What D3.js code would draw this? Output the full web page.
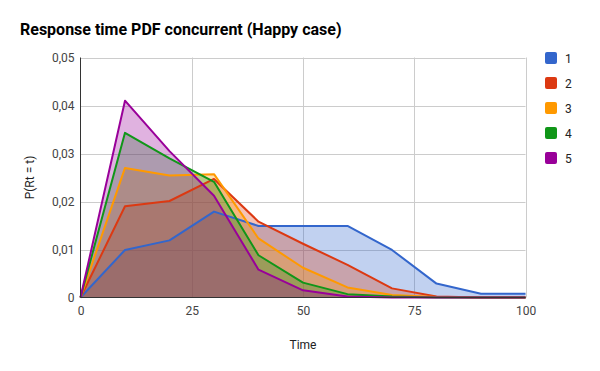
<!DOCTYPE html>
<html>
<head>
<meta charset="utf-8">
<script src="https://cdn.jsdelivr.net/npm/d3@7/dist/d3.min.js"></script>
<style>
  body { margin: 0; background: #fff; }
  svg { font-family: Roboto, Arial, sans-serif; }
</style>
</head>
<body>
<svg id="chart" width="600" height="371"></svg>
<script>
// time axis (x) and one array per series
let times = [0, 10, 20, 30, 40, 50, 60, 70, 80, 90, 100];
let series1 = [0, 0.0099, 0.0119, 0.0179, 0.0149, 0.0149, 0.0149, 0.0099, 0.0029, 0.0008, 0.0008];
let series2 = [0, 0.019, 0.0201, 0.0247, 0.0158, 0.0112, 0.0068, 0.0019, 0.0002, 0, 0];
let series3 = [0, 0.027, 0.0254, 0.0257, 0.0123, 0.0062, 0.0021, 0.0005, 0.0001, 0, 0];
let series4 = [0, 0.0343, 0.029, 0.0241, 0.0088, 0.0031, 0.0007, 0.0002, 0, 0, 0];
let series5 = [0, 0.041, 0.0305, 0.0212, 0.0058, 0.0015, 0.0002, 0, 0, 0, 0];
let seriesNames = ['1', '2', '3', '4', '5'];
let colors = ['#3366cc', '#dc3912', '#ff9900', '#109618', '#990099'];
let xTicks = [0, 25, 50, 75, 100];
let yTicks = [0, 0.01, 0.02, 0.03, 0.04, 0.05];

let allSeries = [series1, series2, series3, series4, series5];

let svg = d3.select('#chart');
let plot = { left: 80.5, right: 525.5, top: 57.5, bottom: 297.5 };

let x = d3.scaleLinear().domain([0, 100]).range([plot.left, plot.right]);
let y = d3.scaleLinear().domain([0, 0.05]).range([plot.bottom, plot.top]);
let fmt = d => d === 0 ? '0' : d3.format('.2f')(d).replace('.', ',');

// Gridlines
let grid = svg.append('g');
grid.selectAll('line.h')
  .data(yTicks.slice(1))
  .join('line')
  .attr('x1', plot.left).attr('x2', plot.right)
  .attr('y1', d => Math.round(y(d)) + 0.5).attr('y2', d => Math.round(y(d)) + 0.5)
  .attr('stroke', '#cccccc');
grid.selectAll('line.v')
  .data(xTicks.slice(1))
  .join('line')
  .attr('x1', d => Math.round(x(d)) + 0.5).attr('x2', d => Math.round(x(d)) + 0.5)
  .attr('y1', plot.top).attr('y2', plot.bottom)
  .attr('stroke', '#cccccc');

// Areas and lines, series 1 drawn first
let area = d3.area()
  .x((d, i) => x(times[i]))
  .y0(y(0))
  .y1(d => y(d));
let line = d3.line()
  .x((d, i) => x(times[i]))
  .y(d => y(d));

let marks = svg.append('g');
allSeries.forEach((vals, k) => {
  marks.append('path')
    .attr('d', area(vals))
    .attr('fill', colors[k])
    .attr('fill-opacity', 0.3);
});
allSeries.forEach((vals, k) => {
  marks.append('path')
    .attr('d', line(vals))
    .attr('fill', 'none')
    .attr('stroke', colors[k])
    .attr('stroke-width', 2)
    .attr('stroke-linejoin', 'round');
});

// Baselines
svg.append('line')
  .attr('x1', plot.left).attr('x2', plot.right)
  .attr('y1', plot.bottom).attr('y2', plot.bottom)
  .attr('stroke', '#333333');
svg.append('line')
  .attr('x1', plot.left).attr('x2', plot.left)
  .attr('y1', plot.top).attr('y2', plot.bottom)
  .attr('stroke', '#333333');

// Axes (labels only, Google style)
let xAxis = d3.axisBottom(x).tickValues(xTicks).tickSize(0).tickPadding(9);
svg.append('g')
  .attr('transform', 'translate(0,' + plot.bottom + ')')
  .call(xAxis)
  .call(g => g.select('.domain').remove())
  .selectAll('text')
  .attr('fill', '#444').style('font-size', '12px').style('font-family', 'Roboto');

let yAxis = d3.axisLeft(y).tickValues(yTicks).tickFormat(fmt).tickSize(0).tickPadding(6);
svg.append('g')
  .attr('transform', 'translate(' + plot.left + ',0)')
  .call(yAxis)
  .call(g => g.select('.domain').remove())
  .selectAll('text')
  .attr('fill', '#444').style('font-size', '12px').style('font-family', 'Roboto');

// Titles
svg.append('text')
  .attr('x', 20).attr('y', 35)
  .attr('font-size', 16).attr('font-weight', 'bold')
  .attr('fill', '#000')
  .text('Response time PDF concurrent (Happy case)');
svg.append('text')
  .attr('x', (plot.left + plot.right) / 2).attr('y', 349)
  .attr('text-anchor', 'middle')
  .attr('font-size', 12).attr('fill', '#222')
  .text('Time');
svg.append('text')
  .attr('transform', 'translate(34,' + ((plot.top + plot.bottom) / 2) + ') rotate(-90)')
  .attr('text-anchor', 'middle')
  .attr('font-size', 12).attr('fill', '#222')
  .text('P(Rt = t)');

// Legend
let legend = svg.append('g').selectAll('g')
  .data(seriesNames)
  .join('g')
  .attr('transform', (d, i) => 'translate(545,' + (52 + i * 25) + ')');
legend.append('rect')
  .attr('width', 12).attr('height', 12).attr('rx', 2)
  .attr('fill', (d, i) => colors[i]);
legend.append('text')
  .attr('x', 20).attr('y', 10.5)
  .attr('font-size', 12).attr('fill', '#222')
  .text(d => d);
</script>
</body>
</html>
